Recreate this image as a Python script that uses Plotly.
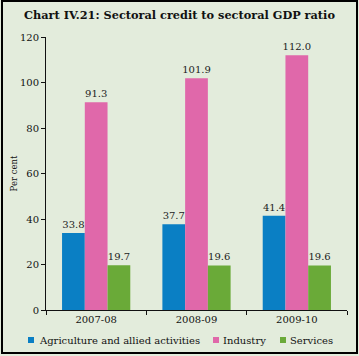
import plotly.graph_objects as go

categories = ["2007-08", "2008-09", "2009-10"]
agriculture = [33.8, 37.7, 41.4]
industry = [91.3, 101.9, 112.0]
services = [19.7, 19.6, 19.6]
series_names = ["Agriculture and allied activities", "Industry", "Services"]
colors = ["#0a7fc4", "#e068aa", "#6aaa38"]

W, H = 359, 356
L, R, T, B = 46, 12, 37, 46
pw, ph = W - L - R, H - T - B

serif = "DejaVu Serif, serif"
fig = go.Figure()
for name, vals, col in zip(series_names, [agriculture, industry, services], colors):
    fig.add_trace(go.Bar(
        x=categories, y=vals, name=name, marker_color=col,
        marker_line_width=0,
        text=[f"{v:.1f}" for v in vals], textposition="outside",
        textfont=dict(family=serif, size=10, color="#222"),
        constraintext="none",
        cliponaxis=False, showlegend=False,
    ))

def px_x(p):
    return (p - L) / pw

def px_y(p):
    return (H - B - p) / ph

# custom legend (squares + text), positioned in pixels
legend_sq_x = [28, 213, 280]
legend_txt_x = [37, 221, 288]
legend_y = 340
shapes = [dict(type="rect", xref="paper", yref="paper",
               x0=px_x(2), x1=px_x(357), y0=px_y(353), y1=px_y(1),
               line=dict(color="#000", width=2), fillcolor="rgba(0,0,0,0)", layer="above")]
annotations = []
for name, col, sx, tx in zip(series_names, colors, legend_sq_x, legend_txt_x):
    shapes.append(dict(type="rect", xref="paper", yref="paper",
                       x0=px_x(sx), x1=px_x(sx + 6), y0=px_y(legend_y + 3), y1=px_y(legend_y - 3),
                       line=dict(width=0), fillcolor=col))
    annotations.append(dict(text=name, xref="paper", yref="paper", x=px_x(tx), y=px_y(legend_y),
                            xanchor="left", yanchor="middle", showarrow=False,
                            font=dict(family=serif, size=10, color="#111")))

fig.update_layout(
    width=W, height=H,
    margin=dict(l=L, r=R, t=T, b=B, autoexpand=False),
    paper_bgcolor="#e3ecdc", plot_bgcolor="#e3ecdc",
    barmode="group", bargap=0.32, bargroupgap=0,
    title=dict(text="<b>Chart IV.21: Sectoral credit to sectoral GDP ratio</b>",
               x=0.5, xanchor="center", y=1 - 15 / H, yanchor="middle",
               font=dict(family=serif, size=11.3, color="#111")),
    font=dict(family=serif, size=10, color="#111"),
    showlegend=False,
    xaxis=dict(type="category", automargin=False, showline=True, linecolor="#111", linewidth=1,
               ticks="outside", ticklen=4, tickcolor="#111", tickson="boundaries",
               tickfont=dict(family=serif, size=10, color="#111"), showgrid=False),
    yaxis=dict(range=[0, 120], dtick=20, automargin=False, showline=True, linecolor="#111", linewidth=1,
               ticks="outside", ticklen=4, tickcolor="#111", showgrid=False, zeroline=False,
               title=dict(text="Per cent", font=dict(family=serif, size=8.5, color="#111"), standoff=0),
               tickfont=dict(family=serif, size=10, color="#111")),
    shapes=shapes,
    annotations=annotations,
)

fig.write_html("out.html", config={"displayModeBar": False},
               post_script="document.body.style.margin='0px';document.body.style.overflow='hidden';")
